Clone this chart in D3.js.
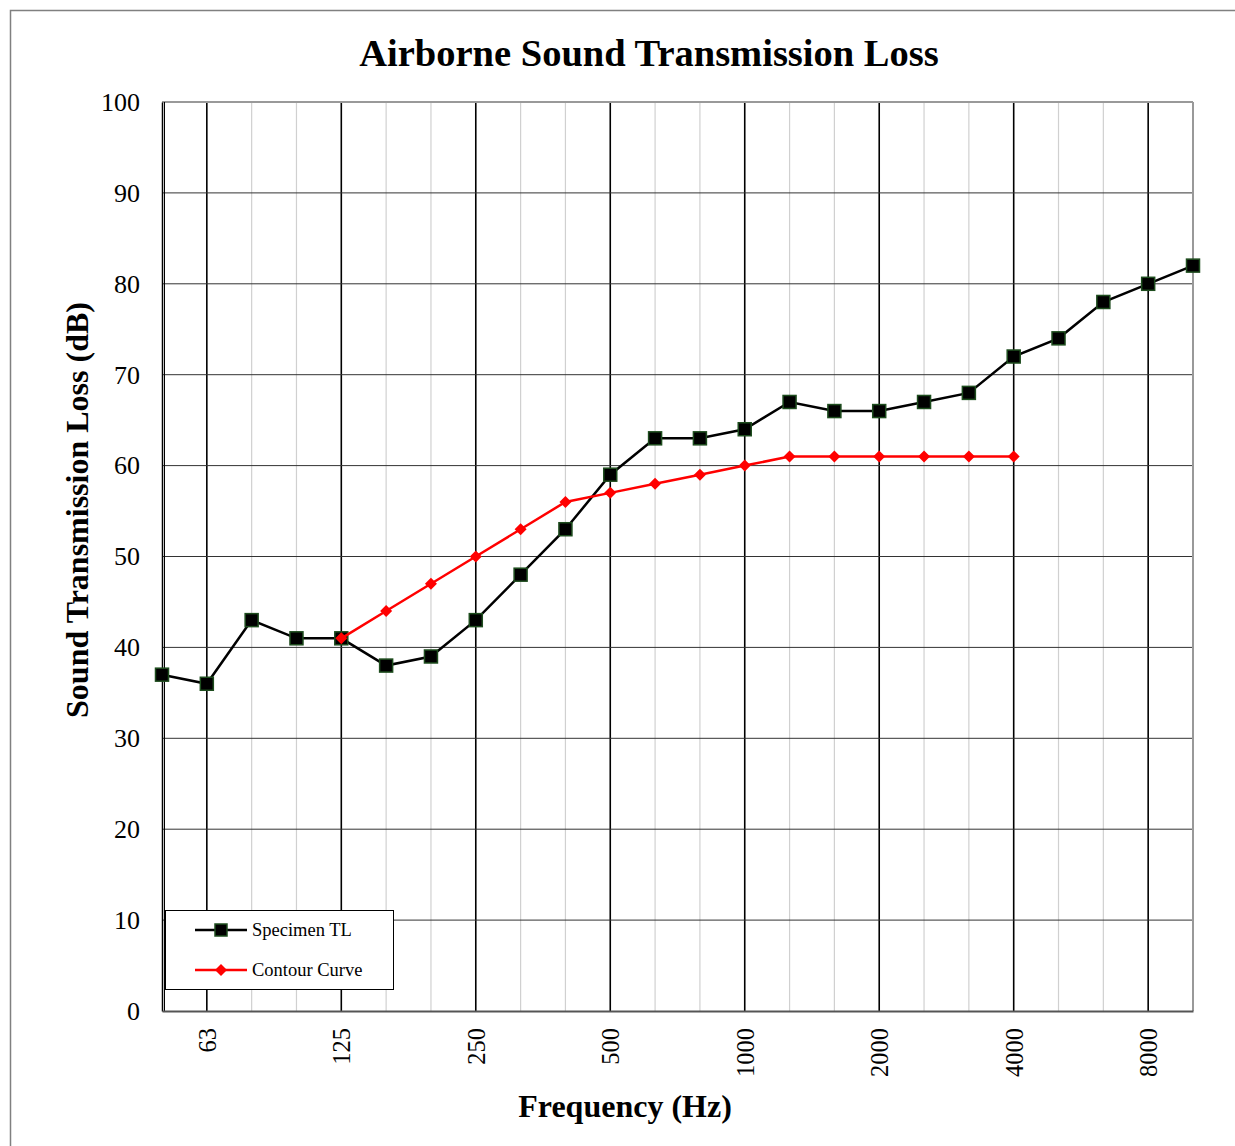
<!DOCTYPE html>
<html>
<head>
<meta charset="utf-8">
<script src="https://cdn.jsdelivr.net/npm/d3@7"></script>
<style>
  body { margin: 0; background: #fff; }
  svg { display: block; }
  svg text { font-family: "Liberation Serif", "DejaVu Serif", serif; fill: #000; }
</style>
</head>
<body>
<svg width="1235" height="1146"></svg>
<script>
// 1/3 octave bands
const bands = ['50','63','80','100','125','160','200','250','315','400','500','630','800','1000',
  '1250','1600','2000','2500','3150','4000','5000','6300','8000','10000']
const octaves = ['63','125','250','500','1000','2000','4000','8000']

// measured transmission loss (dB)
const specimenTL = [37,36,43,41,41,38,39,43,48,53,59,63,63,64,67,66,66,67,68,72,74,78,80,82]

// reference contour, 125 Hz .. 4000 Hz
const contourBands = ['125','160','200','250','315','400','500','630','800','1000','1250','1600','2000','2500','3150','4000']
const contourTL = [41,44,47,50,53,56,57,58,59,60,61,61,61,61,61,61]

const yTicks = d3.range(0, 101, 10)

const marge = {top:102, left:162}
const innerW = 1193 - marge.left
const innerH = 1011 - marge.top

const svg = d3.select('svg')

// outer frame
svg.append('rect').attr('x', 10.5).attr('y', 10.5).attr('width', 1240).attr('height', 1150)
  .attr('fill', 'none').attr('stroke', '#808080').attr('stroke-width', 1.5)

const g = svg.append('g').attr('transform', 'translate(' + marge.left + ',' + marge.top + ')')

const x = d3.scalePoint().domain(bands).range([0, innerW])
const y = d3.scaleLinear().domain([0, 100]).range([innerH, 0])

// vertical grid
g.selectAll('.vgrid').data(bands.slice(1)).enter().append('line')
  .attr('x1', d => x(d)).attr('x2', d => x(d))
  .attr('y1', 0).attr('y2', innerH)
  .attr('stroke', d => octaves.includes(d) ? '#000' : '#d0d0d0')
  .attr('stroke-width', d => octaves.includes(d) ? 1.6 : 1.2)

// horizontal grid
g.selectAll('.hgrid').data(yTicks.slice(1, -1)).enter().append('line')
  .attr('x1', 0).attr('x2', innerW)
  .attr('y1', d => y(d)).attr('y2', d => y(d))
  .attr('stroke', '#333').attr('stroke-width', 1)

// plot border top/right
g.append('line').attr('x1', 0).attr('x2', innerW).attr('y1', 0).attr('y2', 0)
  .attr('stroke', '#999').attr('stroke-width', 2)
g.append('line').attr('x1', innerW).attr('x2', innerW).attr('y1', 0).attr('y2', innerH)
  .attr('stroke', '#999').attr('stroke-width', 2)

// y axis
const yAxis = g.append('g').call(d3.axisLeft(y).tickValues(yTicks).tickSize(0).tickPadding(22))
yAxis.attr('font-family', 'Liberation Serif').attr('font-size', 26)
yAxis.selectAll('text').style('font-family', 'Liberation Serif').style('font-size', '26px')
yAxis.select('.domain').attr('stroke', '#000').attr('stroke-width', 1.5)
g.append('line').attr('x1', 2.5).attr('x2', 2.5).attr('y1', 0).attr('y2', innerH)
  .attr('stroke', '#000').attr('stroke-width', 1)

// x axis
const xAxis = g.append('g').attr('transform', 'translate(0,' + innerH + ')')
  .call(d3.axisBottom(x).tickValues(octaves).tickSize(0))
xAxis.attr('font-family', 'Liberation Serif').attr('font-size', 24.5)
xAxis.select('.domain').attr('stroke', '#555').attr('stroke-width', 2)
xAxis.selectAll('text')
  .style('font-family', 'Liberation Serif').style('font-size', '24.5px')
  .attr('transform', 'rotate(-90)')
  .attr('text-anchor', 'end')
  .attr('x', -17).attr('y', 0).attr('dy', '0.35em')

// lines
const line = d3.line().x(d => x(d[0])).y(d => y(d[1]))
const specPts = bands.map((b, i) => [b, specimenTL[i]])
const contPts = contourBands.map((b, i) => [b, contourTL[i]])

g.append('path').datum(specPts).attr('d', line)
  .attr('fill', 'none').attr('stroke', '#000').attr('stroke-width', 2.5)
g.selectAll('.sq').data(specPts).enter().append('rect')
  .attr('x', d => x(d[0]) - 6.5).attr('y', d => y(d[1]) - 6.5)
  .attr('width', 13).attr('height', 13)
  .attr('fill', '#000').attr('stroke', '#1e4d1e').attr('stroke-width', 1.5)

g.append('path').datum(contPts).attr('d', line)
  .attr('fill', 'none').attr('stroke', '#ff0000').attr('stroke-width', 2.5)
const diamond = d3.symbol().type(d3.symbolSquare).size(72)
g.selectAll('.dm').data(contPts).enter().append('path')
  .attr('d', diamond)
  .attr('transform', d => 'translate(' + x(d[0]) + ',' + y(d[1]) + ') rotate(45)')
  .attr('fill', '#ff0000')

// legend
const lg = svg.append('g').attr('transform', 'translate(165,910)')
lg.append('rect').attr('x', 0.5).attr('y', 0.5).attr('width', 228).attr('height', 79)
  .attr('fill', '#fff').attr('stroke', '#000').attr('stroke-width', 1)
lg.append('line').attr('x1', 30).attr('x2', 82).attr('y1', 20).attr('y2', 20)
  .attr('stroke', '#000').attr('stroke-width', 2.5)
lg.append('rect').attr('x', 50).attr('y', 14).attr('width', 12).attr('height', 12)
  .attr('fill', '#000').attr('stroke', '#1e4d1e').attr('stroke-width', 1.5)
lg.append('text').attr('x', 87).attr('y', 26).text('Specimen TL')
  .style('font-size', '18.5px')
lg.append('line').attr('x1', 30).attr('x2', 82).attr('y1', 60).attr('y2', 60)
  .attr('stroke', '#ff0000').attr('stroke-width', 2.5)
lg.append('path').attr('d', diamond).attr('transform', 'translate(56,60) rotate(45)').attr('fill', '#ff0000')
lg.append('text').attr('x', 87).attr('y', 66).text('Contour Curve')
  .style('font-size', '18.5px')

// titles
svg.append('text').attr('x', 649).attr('y', 66).attr('text-anchor', 'middle')
  .style('font-size', '38.5px').style('font-weight', 'bold').text('Airborne Sound Transmission Loss')
svg.append('text').attr('x', 625).attr('y', 1117).attr('text-anchor', 'middle')
  .style('font-size', '32px').style('font-weight', 'bold').text('Frequency (Hz)')
svg.append('text').attr('transform', 'translate(88,510) rotate(-90)').attr('text-anchor', 'middle')
  .style('font-size', '32px').style('font-weight', 'bold').text('Sound Transmission Loss (dB)')
</script>
</body>
</html>
